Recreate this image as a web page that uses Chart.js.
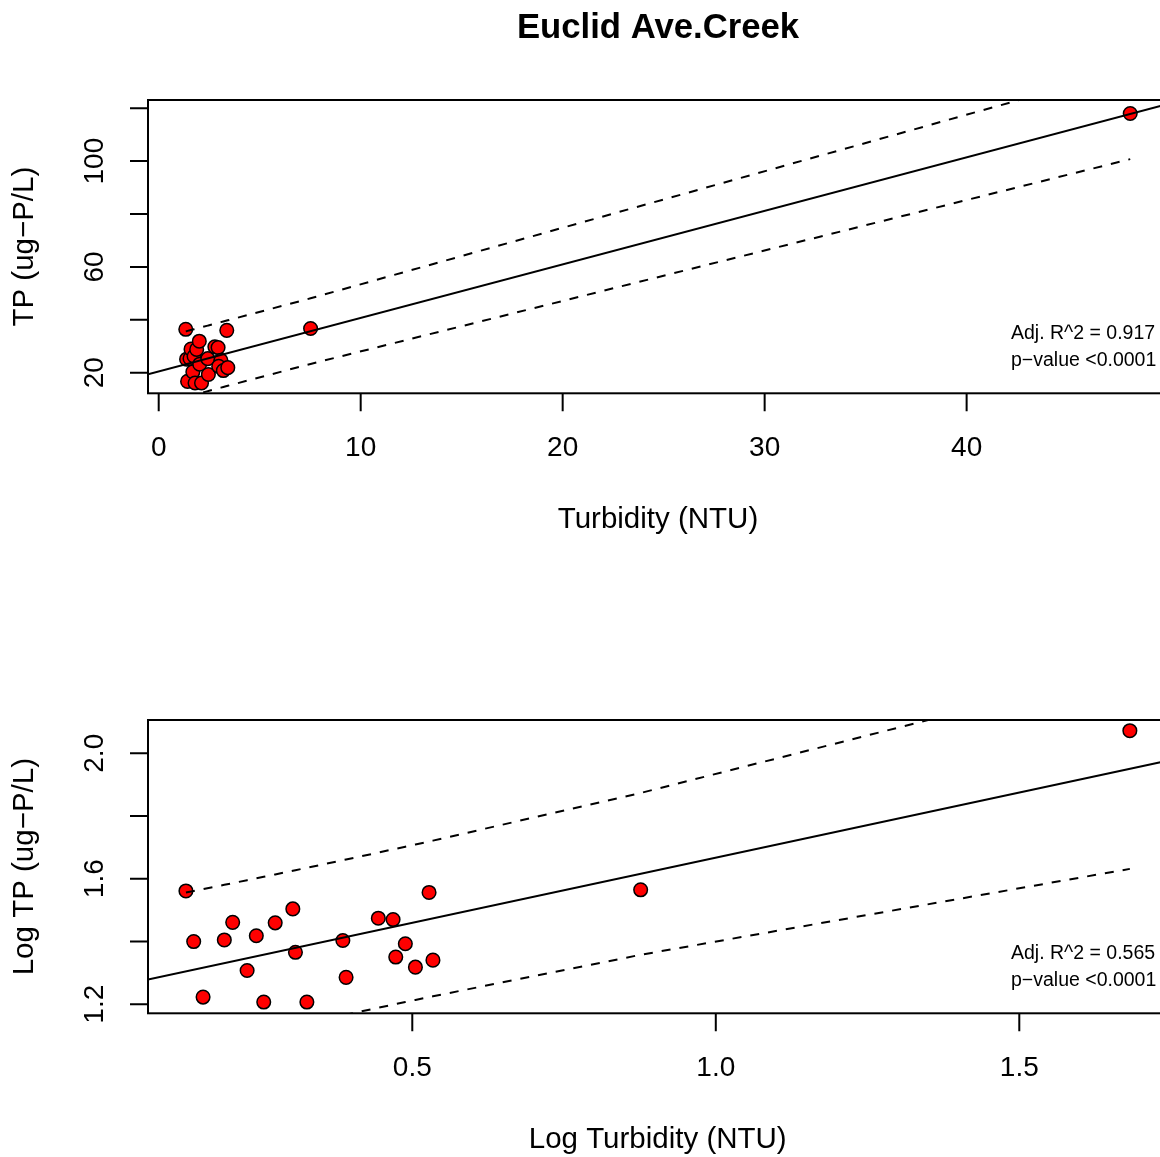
<!DOCTYPE html>
<html>
<head>
<meta charset="utf-8">
<title>Euclid Ave.Creek</title>
<script src="https://cdn.jsdelivr.net/npm/chart.js@4.4.1/dist/chart.umd.min.js"></script>
<style>
  html, body { margin: 0; padding: 0; background: #fff; overflow: hidden; }
  #wrap { position: relative; width: 1160px; height: 1157px; overflow: hidden; }
  canvas { position: absolute; left: 0; }
  #rawChart { top: 0; }
  #logChart { top: 580px; }
</style>
</head>
<body>
<div id="wrap">
  <canvas id="rawChart" width="1180" height="580"></canvas>
  <canvas id="logChart" width="1180" height="577"></canvas>
</div>
<script>
// Paired samples: turbidity (NTU) and total phosphorus (ug-P/L)
var turbidity = [1.34, 1.38, 1.43, 1.55, 1.60, 1.69, 1.75, 1.80, 1.88, 2.01, 2.03, 2.12,
                 2.43, 2.46, 2.78, 2.94, 3.08, 2.97, 3.20, 3.42, 3.37, 7.52, 48.1];
var tp        = [36.4, 25.1, 16.7, 25.4, 28.9, 20.3, 26.2, 16.1, 28.8, 31.9, 23.2, 16.1,
                 25.3, 19.3, 29.8, 29.5, 24.7, 22.4, 20.8, 21.9, 36.0, 36.7, 118];

// Axis ticks (labels are only printed where they fit)
var rawXTicks  = [0, 10, 20, 30, 40];
var rawYTicks  = [20, 40, 60, 80, 100, 120];
var rawYLabels = [20, 60, 100];
var logXTicks  = [0.5, 1.0, 1.5];
var logYTicks  = [1.2, 1.4, 1.6, 1.8, 2.0];
var logYLabels = [1.2, 1.6, 2.0];

// Fit summaries printed in the corner of each panel
var rawStats = ['Adj. R^2 = 0.917', 'p\u2212value <0.0001'];
var logStats = ['Adj. R^2 = 0.565', 'p\u2212value <0.0001'];

var logTurbidity = turbidity.map(Math.log10);
var logTp = tp.map(Math.log10);

// two-sided 95% t quantile, 21 degrees of freedom
var T_QUANT = 2.0796;
var FONT = '"Liberation Sans", Arial, Helvetica, sans-serif';

function fitLine(xs, ys) {
  var n = xs.length, mx = 0, my = 0, sxx = 0, sxy = 0, sse = 0, i;
  for (i = 0; i < n; i++) { mx += xs[i]; my += ys[i]; }
  mx /= n; my /= n;
  for (i = 0; i < n; i++) {
    sxx += (xs[i] - mx) * (xs[i] - mx);
    sxy += (xs[i] - mx) * (ys[i] - my);
  }
  var b = sxy / sxx, a = my - b * mx;
  for (i = 0; i < n; i++) {
    var r = ys[i] - (a + b * xs[i]);
    sse += r * r;
  }
  return { a: a, b: b, s: Math.sqrt(sse / (n - 2)), n: n, mx: mx, sxx: sxx };
}

// 95% prediction limits evaluated at the observed x values
function predictionBand(fit, xs, sign) {
  return xs.slice().sort(function (p, q) { return p - q; }).map(function (x) {
    var se = fit.s * Math.sqrt(1 + 1 / fit.n + (x - fit.mx) * (x - fit.mx) / fit.sxx);
    return { x: x, y: fit.a + fit.b * x + sign * T_QUANT * se };
  });
}

function pairs(xs, ys) {
  return xs.map(function (x, i) { return { x: x, y: ys[i] }; });
}

// R-style frame: box, outward ticks, rotated y labels, titles and corner text
function rAxesPlugin(cfg) {
  return {
    id: 'rAxes',
    afterDraw: function (chart) {
      var ctx = chart.ctx, a = chart.chartArea;
      var xs = chart.scales.x, ys = chart.scales.y;
      var cx = (a.left + a.right) / 2, cy = (a.top + a.bottom) / 2;
      ctx.save();
      ctx.strokeStyle = '#000';
      ctx.fillStyle = '#000';
      ctx.lineWidth = 2;
      ctx.strokeRect(a.left, a.top, a.right - a.left, a.bottom - a.top);

      ctx.beginPath();
      cfg.xTicks.forEach(function (v) {
        var px = xs.getPixelForValue(v);
        ctx.moveTo(px, a.bottom);
        ctx.lineTo(px, a.bottom + 18);
      });
      cfg.yTicks.forEach(function (v) {
        var py = ys.getPixelForValue(v);
        ctx.moveTo(a.left, py);
        ctx.lineTo(a.left - 18, py);
      });
      ctx.stroke();

      ctx.font = '28px ' + FONT;
      ctx.textAlign = 'center';
      ctx.textBaseline = 'middle';
      cfg.xTicks.forEach(function (v) {
        ctx.fillText(cfg.fmtX(v), xs.getPixelForValue(v), a.bottom + 55);
      });
      cfg.yLabels.forEach(function (v) {
        ctx.save();
        ctx.translate(a.left - 53, ys.getPixelForValue(v));
        ctx.rotate(-Math.PI / 2);
        ctx.fillText(cfg.fmtY(v), 0, 0);
        ctx.restore();
      });

      ctx.font = '29.5px ' + FONT;
      ctx.fillText(cfg.xTitle, cx, a.bottom + 126.5);
      ctx.save();
      ctx.translate(a.left - 123, cy);
      ctx.rotate(-Math.PI / 2);
      ctx.fillText(cfg.yTitle, 0, 0);
      ctx.restore();

      if (cfg.title) {
        ctx.font = 'bold 34.7px ' + FONT;
        ctx.fillText(cfg.title, cx, 28);
      }

      ctx.font = '19.5px ' + FONT;
      ctx.textAlign = 'left';
      ctx.fillText(cfg.stats[0], 1011, a.bottom - 60);
      ctx.fillText(cfg.stats[1], 1011, a.bottom - 33);
      ctx.restore();
    }
  };
}

function buildDatasets(xs, ys, xMin, xMax) {
  var fit = fitLine(xs, ys);
  var lineStyle = { type: 'line', showLine: true, pointRadius: 0, borderColor: '#000',
                    borderWidth: 2, fill: false, tension: 0, order: 0 };
  return [
    Object.assign({}, lineStyle, {
      label: 'fit',
      data: [{ x: xMin, y: fit.a + fit.b * xMin }, { x: xMax, y: fit.a + fit.b * xMax }]
    }),
    Object.assign({}, lineStyle, { label: 'upper', borderDash: [9, 9], data: predictionBand(fit, xs, 1) }),
    Object.assign({}, lineStyle, { label: 'lower', borderDash: [9, 9], data: predictionBand(fit, xs, -1) }),
    {
      type: 'scatter',
      label: 'samples',
      data: pairs(xs, ys),
      pointRadius: 6.8,
      pointBackgroundColor: '#ff0000',
      pointBorderColor: '#000',
      pointBorderWidth: 1.5,
      order: 1
    }
  ];
}

function makeChart(id, xs, ys, range, padding, axes) {
  return new Chart(document.getElementById(id), {
    type: 'scatter',
    data: { datasets: buildDatasets(xs, ys, range.xMin, range.xMax) },
    options: {
      responsive: false,
      animation: false,
      events: [],
      layout: { padding: padding },
      scales: {
        x: { type: 'linear', min: range.xMin, max: range.xMax, display: false },
        y: { type: 'linear', min: range.yMin, max: range.yMax, display: false }
      },
      plugins: { legend: { display: false }, tooltip: { enabled: false } }
    },
    plugins: [rAxesPlugin(axes)]
  });
}

makeChart('rawChart', turbidity, tp,
  { xMin: -0.53, xMax: 49.97, yMin: 12.2, yMax: 123.1 },
  { left: 148, right: 12, top: 100, bottom: 186.7 },
  {
    title: 'Euclid Ave.Creek',
    xTitle: 'Turbidity (NTU)',
    yTitle: 'TP (ug\u2212P/L)',
    xTicks: rawXTicks, yTicks: rawYTicks, yLabels: rawYLabels,
    fmtX: function (v) { return String(v); },
    fmtY: function (v) { return String(v); },
    stats: rawStats
  });

makeChart('logChart', logTurbidity, logTp,
  { xMin: 0.0646, xMax: 1.744, yMin: 1.171, yMax: 2.106 },
  { left: 148, right: 12.6, top: 140, bottom: 143.7 },
  {
    xTitle: 'Log Turbidity (NTU)',
    yTitle: 'Log TP (ug\u2212P/L)',
    xTicks: logXTicks, yTicks: logYTicks, yLabels: logYLabels,
    fmtX: function (v) { return v.toFixed(1); },
    fmtY: function (v) { return v.toFixed(1); },
    stats: logStats
  });
</script>
</body>
</html>
